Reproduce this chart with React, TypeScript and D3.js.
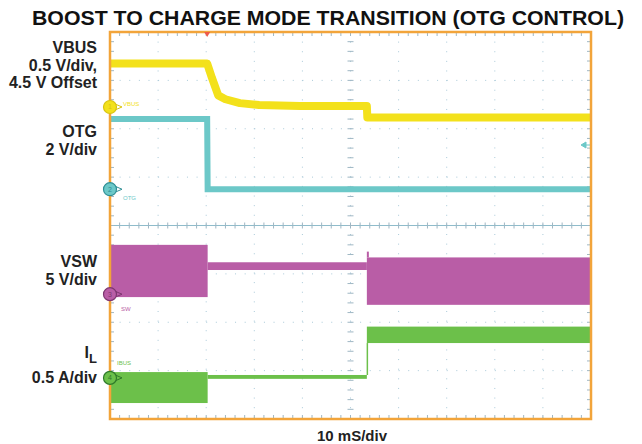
import React from "react";
import * as d3 from "d3";

// scope capture, 10 ms/div across 10 divisions, 8 vertical divisions
const W = 642;
const H = 444;
const frame = { left: 110, right: 591, top: 32, bottom: 419 };

const timeDomain = [0, 100]; // ms
const divDomain = [-4, 4]; // screen divisions

// VBUS (V), 0.5 V/div, 4.5 V offset
const vbusTime = [0, 20.2, 21.2, 22.5, 24, 27, 31, 39.5, 53.4, 53.5, 100];
const vbusVolts = [4.95, 4.95, 4.8, 4.62, 4.58, 4.54, 4.52, 4.51, 4.51, 4.39, 4.39];

// OTG pin (V), 2 V/div
const otgTime = [0, 20.2, 20.3, 100];
const otgVolts = [2.9, 2.9, 0, 0];

// VSW switching envelope (V), 5 V/div
const swStart = [0, 20.3, 53.4];
const swEnd = [20.3, 53.4, 100];
const swHigh = [5.1, 3.3, 3.8];
const swLow = [-0.3, 2.5, -1.1];
const swSpike = [53.4, 4.4];

// inductor current envelope (A), 0.5 A/div
const ilStart = [0, 20.3, 53.4];
const ilEnd = [20.3, 53.4, 100];
const ilHigh = [0.06, 0.03, 0.53];
const ilLow = [-0.26, -0.01, 0.36];

const channels = {
  vbus: { num: "1", tag: "VBUS", color: "#f3e11b", dark: "#d8c410", ref: 2.45, perDiv: 0.5, offset: 4.5 },
  otg: { num: "2", tag: "OTG", color: "#6cc8c8", dark: "#2f8f95", ref: 0.75, perDiv: 2, offset: 0 },
  sw: { num: "3", tag: "SW", color: "#b95da6", dark: "#7d3670", ref: -1.42, perDiv: 5, offset: 0 },
  il: { num: "4", tag: "IBUS", color: "#6cc04a", dark: "#2f7a2a", ref: -3.15, perDiv: 0.5, offset: 0 },
};

const x = d3.scaleLinear().domain(timeDomain).range([frame.left, frame.right]);
const y = d3.scaleLinear().domain(divDomain).range([frame.bottom, frame.top]);

const toDiv = (ch: { ref: number; perDiv: number; offset: number }, v: number) =>
  ch.ref + (v - ch.offset) / ch.perDiv;

const font = "'Liberation Sans', Arial, sans-serif";

function Marker({ ch }: { ch: (typeof channels)["vbus"] }) {
  const cy = y(ch.ref);
  return (
    <g>
      <path d={`M${frame.left + 5},${cy - 3} L${frame.left + 12},${cy} L${frame.left + 5},${cy + 3}`} fill="none" stroke={ch.dark} strokeWidth={1} />
      <circle cx={frame.left} cy={cy} r={6.5} fill={ch.color} stroke={ch.dark} strokeWidth={1.2} />
      <text x={frame.left} y={cy + 2.5} fontSize={7} textAnchor="middle" fill={ch.dark} fontFamily={font}>
        {ch.num}
      </text>
    </g>
  );
}

export default function App() {
  const line = d3
    .line<[number, number]>()
    .x((d) => x(d[0]))
    .y((d) => y(d[1]));

  const vbusPts = vbusTime.map((t, i) => [t, toDiv(channels.vbus, vbusVolts[i])] as [number, number]);
  const otgPts = otgTime.map((t, i) => [t, toDiv(channels.otg, otgVolts[i])] as [number, number]);

  const minor = d3.range(0, 10.0001, 0.2);
  const minorV = d3.range(-4, 4.0001, 0.2);
  const majorX = d3.range(1, 10);
  const majorY = d3.range(-3, 4);
  const dotGap = (frame.right - frame.left) / 50;

  const gridColor = "#a9c9d8";
  const tickColor = "#9fb7c4";
  const xDiv = d3.scaleLinear().domain([0, 10]).range([frame.left, frame.right]);

  return (
    <svg width={W} height={H} style={{ position: "absolute", left: 0, top: 0, background: "#fff" }}>
      <text x={328} y={25} textAnchor="middle" fontSize={20} fontWeight="bold" fontFamily={font} fill="#111"
        textLength={592} lengthAdjust="spacingAndGlyphs">
        BOOST TO CHARGE MODE TRANSITION (OTG CONTROL)
      </text>

      {/* grid */}
      <g>
        {majorX.map((d) => (
          <line key={"gx" + d} x1={xDiv(d)} x2={xDiv(d)} y1={frame.top} y2={frame.bottom}
            stroke={gridColor} strokeWidth={1} strokeDasharray={`1 ${dotGap - 1}`} />
        ))}
        {majorY.map((d) => (
          <line key={"gy" + d} x1={frame.left} x2={frame.right} y1={y(d)} y2={y(d)}
            stroke={gridColor} strokeWidth={1} strokeDasharray={`1 ${dotGap - 1}`} />
        ))}
        <line x1={frame.left} x2={frame.right} y1={y(0)} y2={y(0)} stroke="#8fbccb" strokeWidth={1} />
        {minor.map((d, i) => (
          <g key={"tx" + i} stroke={tickColor} strokeWidth={1}>
            <line x1={xDiv(d)} x2={xDiv(d)} y1={frame.top} y2={frame.top + 4} />
            <line x1={xDiv(d)} x2={xDiv(d)} y1={frame.bottom - 4} y2={frame.bottom} />
            <line x1={xDiv(d)} x2={xDiv(d)} y1={y(0) - 3} y2={y(0) + 3} />
          </g>
        ))}
        {minorV.map((d, i) => (
          <g key={"ty" + i} stroke={tickColor} strokeWidth={1}>
            <line x1={frame.left} x2={frame.left + 4} y1={y(d)} y2={y(d)} />
            <line x1={frame.right - 4} x2={frame.right} y1={y(d)} y2={y(d)} />
            <line x1={xDiv(5) - 3} x2={xDiv(5) + 3} y1={y(d)} y2={y(d)} />
          </g>
        ))}
      </g>

      {/* traces */}
      <g>
        <path d={line(vbusPts) ?? ""} fill="none" stroke={channels.vbus.color} strokeWidth={8} strokeLinejoin="round" />
        <path d={line(otgPts) ?? ""} fill="none" stroke={channels.otg.color} strokeWidth={6} />
        {swStart.map((t, i) => (
          <rect key={"sw" + i} x={x(t)} width={x(swEnd[i]) - x(t)}
            y={y(toDiv(channels.sw, swHigh[i]))}
            height={y(toDiv(channels.sw, swLow[i])) - y(toDiv(channels.sw, swHigh[i]))}
            fill={channels.sw.color} />
        ))}
        <line x1={x(swSpike[0]) + 1} x2={x(swSpike[0]) + 1} y1={y(toDiv(channels.sw, swSpike[1]))}
          y2={y(toDiv(channels.sw, swHigh[2]))} stroke={channels.sw.color} strokeWidth={2} />
        {ilStart.map((t, i) => (
          <rect key={"il" + i} x={x(t)} width={x(ilEnd[i]) - x(t)}
            y={y(toDiv(channels.il, ilHigh[i]))}
            height={y(toDiv(channels.il, ilLow[i])) - y(toDiv(channels.il, ilHigh[i]))}
            fill={channels.il.color} />
        ))}
        <line x1={x(ilStart[2]) + 0.5} x2={x(ilStart[2]) + 0.5} y1={y(toDiv(channels.il, ilHigh[1]))}
          y2={y(toDiv(channels.il, ilLow[2]))} stroke={channels.il.color} strokeWidth={1.5} />
      </g>

      {/* frame */}
      <rect x={frame.left} y={frame.top} width={frame.right - frame.left} height={frame.bottom - frame.top}
        fill="none" stroke="#f2a43a" strokeWidth={2.5} />

      {/* trigger position and level */}
      <path d={`M${x(20.2) - 3},${frame.top} L${x(20.2) + 3},${frame.top} L${x(20.2)},${frame.top + 5}Z`} fill="#ef5a4a" />
      <path d={`M${frame.right - 10},${145} L${frame.right - 5},${142} L${frame.right - 5},${148}Z M${frame.right - 6},145 L${frame.right - 1},145`}
        fill={channels.otg.color} stroke={channels.otg.color} strokeWidth={1} />

      {/* channel markers and tags */}
      {Object.values(channels).map((ch) => (
        <Marker key={ch.num} ch={ch} />
      ))}
      <text x={123} y={y(channels.vbus.ref) - 1} fontSize={6} fill={channels.vbus.color} fontFamily={font}>VBUS</text>
      <text x={123} y={y(channels.otg.ref) + 11} fontSize={6} fill={channels.otg.color} fontFamily={font}>OTG</text>
      <text x={121} y={y(channels.sw.ref) + 17} fontSize={6} fill={channels.sw.color} fontFamily={font}>SW</text>
      <text x={117} y={y(channels.il.ref) - 13} fontSize={6} fill={channels.il.color} fontFamily={font}>IBUS</text>

      {/* left labels */}
      <g fontFamily={font} fontWeight="bold" fontSize={16} fill="#222" textAnchor="end">
        <text x={97} y={53}>VBUS</text>
        <text x={97} y={71}>0.5 V/div,</text>
        <text x={97} y={88}>4.5 V Offset</text>
        <text x={97} y={137}>OTG</text>
        <text x={97} y={155}>2 V/div</text>
        <text x={97} y={267}>VSW</text>
        <text x={97} y={285}>5 V/div</text>
        <text x={97} y={358}>
          I<tspan fontSize={13} dy={5}>L</tspan>
        </text>
        <text x={97} y={383}>0.5 A/div</text>
      </g>
      <text x={352} y={441} textAnchor="middle" fontFamily={font} fontWeight="bold" fontSize={15} fill="#222">
        10 mS/div
      </text>
    </svg>
  );
}
